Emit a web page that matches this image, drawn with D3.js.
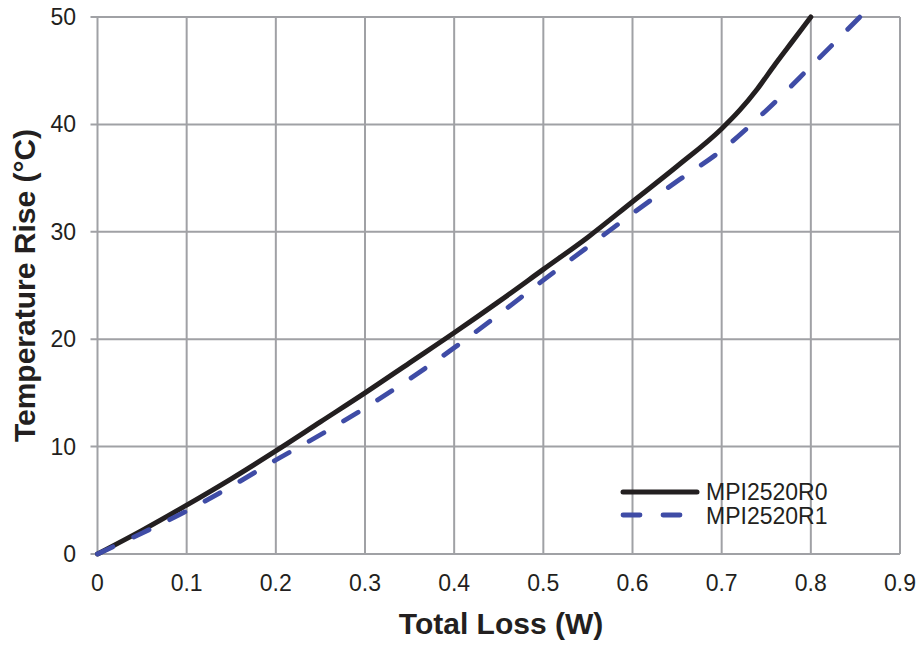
<!DOCTYPE html>
<html>
<head>
<meta charset="utf-8">
<script src="https://cdn.jsdelivr.net/npm/d3@7"></script>
<style>
  html, body { margin: 0; padding: 0; background: #ffffff; }
  svg { display: block; }
  text { font-family: "Liberation Sans", Arial, Helvetica, sans-serif; fill: #231f20; }
</style>
</head>
<body>
<svg id="chart" width="920" height="645"></svg>
<script>
// ---- Data ----
const xTicks = [0, 0.1, 0.2, 0.3, 0.4, 0.5, 0.6, 0.7, 0.8, 0.9];
const yTicks = [0, 10, 20, 30, 40, 50];
const seriesNames = ["MPI2520R0", "MPI2520R1"];

const lossR0 = [0, 0.05, 0.1, 0.15, 0.2, 0.25, 0.3, 0.35, 0.4, 0.45, 0.5, 0.55, 0.6, 0.65, 0.7, 0.72, 0.74, 0.76, 0.78, 0.8];
const riseR0 = [0, 2.2, 4.55, 7.0, 9.6, 12.3, 15.0, 17.8, 20.6, 23.5, 26.5, 29.5, 32.8, 36.1, 39.6, 41.3, 43.3, 45.6, 47.8, 50];

const lossR1 = [0, 0.05, 0.1, 0.15, 0.2, 0.25, 0.3, 0.35, 0.4, 0.45, 0.5, 0.55, 0.6, 0.65, 0.7, 0.75, 0.8, 0.855];
const riseR1 = [0, 1.95, 4.0, 6.3, 8.75, 11.1, 13.6, 16.3, 19.2, 22.3, 25.5, 28.6, 31.7, 34.7, 37.6, 41.3, 45.4, 50];

const xTitle = "Total Loss (W)";
const yTitle = "Temperature Rise (°C)";

// ---- Layout ----
const svg = d3.select("#chart");
const x = d3.scaleLinear().domain([0, 0.9]).range([97.5, 900]);
const y = d3.scaleLinear().domain([0, 50]).range([554, 17]);

const gridColor = "#a0a1a5";

// vertical grid lines
svg.append("g").selectAll("line").data(xTicks).join("line")
  .attr("x1", d => x(d)).attr("x2", d => x(d))
  .attr("y1", y(50)).attr("y2", y(0))
  .attr("stroke", gridColor).attr("stroke-width", 2);

// horizontal grid lines (extend left as tick marks)
svg.append("g").selectAll("line").data(yTicks).join("line")
  .attr("x1", x(0) - 7).attr("x2", x(0.9))
  .attr("y1", d => y(d)).attr("y2", d => y(d))
  .attr("stroke", gridColor).attr("stroke-width", 2);

// y tick labels
svg.append("g").selectAll("text").data(yTicks).join("text")
  .attr("x", 76).attr("y", d => y(d) + 8)
  .attr("text-anchor", "end")
  .attr("font-size", 23)
  .text(d => d);

// x tick labels
svg.append("g").selectAll("text").data(xTicks).join("text")
  .attr("x", d => x(d)).attr("y", 591)
  .attr("text-anchor", "middle")
  .attr("font-size", 23)
  .text(d => d === 0 ? "0" : d3.format(".1f")(d));

// axis titles
svg.append("text")
  .attr("x", 501).attr("y", 634)
  .attr("text-anchor", "middle")
  .attr("font-size", 30).attr("font-weight", "bold")
  .text(xTitle);

svg.append("text")
  .attr("transform", "translate(35," + ((y(0) + y(50)) / 2) + ") rotate(-90)")
  .attr("text-anchor", "middle")
  .attr("font-size", 30).attr("font-weight", "bold")
  .text(yTitle);

// ---- Lines ----
const line = d3.line()
  .x(d => x(d[0])).y(d => y(d[1]))
  .curve(d3.curveMonotoneX);

const dataR0 = lossR0.map((v, i) => [v, riseR0[i]]);
const dataR1 = lossR1.map((v, i) => [v, riseR1[i]]);

const blue = "#3f4ca6";
const black = "#231f20";

svg.append("path").datum(dataR0)
  .attr("d", line)
  .attr("fill", "none").attr("stroke", black)
  .attr("stroke-width", 5).attr("stroke-linecap", "round");

svg.append("path").datum(dataR1)
  .attr("d", line)
  .attr("fill", "none").attr("stroke", blue)
  .attr("stroke-width", 4.8).attr("stroke-linecap", "round")
  .attr("stroke-dasharray", "17,23");

// ---- Legend ----
const legend = svg.append("g");
legend.append("line")
  .attr("x1", 623).attr("x2", 697).attr("y1", 492).attr("y2", 492)
  .attr("stroke", black).attr("stroke-width", 5).attr("stroke-linecap", "round");
legend.append("line")
  .attr("x1", 623).attr("x2", 681).attr("y1", 515).attr("y2", 515)
  .attr("stroke", blue).attr("stroke-width", 4.8).attr("stroke-linecap", "round")
  .attr("stroke-dasharray", "17,23");
legend.selectAll("text").data(seriesNames).join("text")
  .attr("x", 706).attr("y", (d, i) => 499.5 + i * 24)
  .attr("font-size", 23)
  .text(d => d);
</script>
</body>
</html>
